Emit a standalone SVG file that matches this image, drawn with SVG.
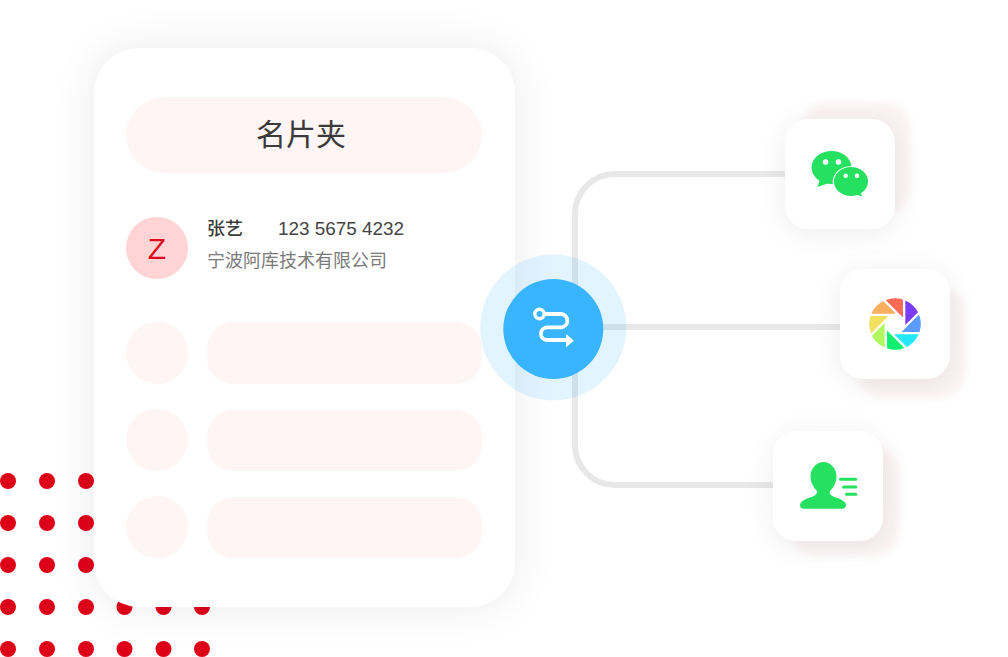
<svg xmlns="http://www.w3.org/2000/svg" width="1008" height="657" viewBox="0 0 1008 657">
<style>
.t{font-family:"Noto Sans CJK SC","Noto Sans",sans-serif}
.n{font-family:"Liberation Sans",Arial,"Noto Sans CJK SC",sans-serif}
.dot{fill:#de0019}
.ph{fill:#fff5f4}
.tile{fill:#fff}
.pink{fill:#fbf2f3}
.conn{fill:none;stroke:#e8e8e8;stroke-width:6}
.lines{stroke:#26e05f;stroke-width:3;stroke-linecap:round;fill:none}
</style>
<defs>
<filter id="card" x="-20%" y="-20%" width="140%" height="140%"><feDropShadow dx="0" dy="0" stdDeviation="20" flood-color="#000" flood-opacity="0.08"/></filter>
<filter id="tile" x="-50%" y="-50%" width="200%" height="200%"><feDropShadow dx="0" dy="4" stdDeviation="13" flood-color="#000" flood-opacity="0.07"/></filter>
<filter id="soft" x="-20%" y="-20%" width="140%" height="140%"><feGaussianBlur stdDeviation="4"/></filter>
<path id="blade" d="M10.3 -23.6A25.8 25.8 0 0 1 23 -11.8L10.3 1Z"/>
</defs>

<g id="dots" class="dot">
<circle cx="8" cy="481" r="8"/><circle cx="47" cy="481" r="8"/><circle cx="86" cy="481" r="8"/>
<circle cx="8" cy="523" r="8"/><circle cx="47" cy="523" r="8"/><circle cx="86" cy="523" r="8"/>
<circle cx="8" cy="565" r="8"/><circle cx="47" cy="565" r="8"/><circle cx="86" cy="565" r="8"/>
<circle cx="8" cy="607" r="8"/><circle cx="47" cy="607" r="8"/><circle cx="86" cy="607" r="8"/><circle cx="124.500" cy="607" r="8"/><circle cx="163.500" cy="607" r="8"/><circle cx="202" cy="607" r="8"/>
<circle cx="8" cy="649" r="8"/><circle cx="47" cy="649" r="8"/><circle cx="86" cy="649" r="8"/><circle cx="124.500" cy="649" r="8"/><circle cx="163.500" cy="649" r="8"/><circle cx="202" cy="649" r="8"/>
</g>

<g id="connectors">
<path class="conn" d="M785 174H615A40 40 0 0 0 575 214V445A40 40 0 0 0 615 485H775"/>
<path class="conn" d="M600 327H842"/>
</g>

<g id="card-main">
<rect x="94" y="48" width="421" height="559" rx="46" fill="#fff" filter="url(#card)"/>
<rect class="ph" x="126" y="97" width="356" height="76" rx="38"/>
<text class="t" x="301" y="145" font-size="30" fill="#3a3a3a" text-anchor="middle">名片夹</text>
<circle cx="157" cy="248" r="31" fill="#ffd4d4"/>
<text class="n" x="157" y="259" font-size="30" fill="#e00a20" text-anchor="middle">Z</text>
<text class="t" x="207" y="235" font-size="18" font-weight="500" fill="#3a3a3a">张艺</text>
<text class="n" x="278" y="235" font-size="18.900" fill="#444">123 5675 4232</text>
<text class="t" x="207" y="267" font-size="18" fill="#7a7a7a">宁波阿库技术有限公司</text>
<circle class="ph" cx="157" cy="353" r="31"/><rect class="ph" x="207" y="322" width="275" height="62" rx="26"/>
<circle class="ph" cx="157" cy="440" r="31"/><rect class="ph" x="207" y="410" width="275" height="61" rx="26"/>
<circle class="ph" cx="157" cy="527" r="31"/><rect class="ph" x="207" y="497" width="275" height="61" rx="26"/>
</g>

<g id="hub">
<circle cx="553.300" cy="327.500" r="73" fill="#39b4ff" fill-opacity="0.15"/>
<circle cx="553.300" cy="329" r="50" fill="#39b4ff"/>
<circle cx="539.500" cy="314" r="4.700" fill="none" stroke="#fff" stroke-width="3.400"/>
<path d="M544.500 314H561.500A6.700 6.700 0 0 1 561.500 327.300H546.500A6.400 6.400 0 0 0 546.500 340H568" fill="none" stroke="#fff" stroke-width="3.800"/>
<path d="M566 334L574 340.700L566 347.300Z" fill="#fff"/>
</g>

<g id="wechat">
<rect class="pink" x="803" y="103" width="107" height="110" rx="24" filter="url(#soft)"/>
<rect class="tile" x="785" y="119" width="110" height="110" rx="24" filter="url(#tile)"/>
<ellipse cx="831.500" cy="167.500" rx="20" ry="16.500" fill="#26e05f"/>
<path d="M820 179L817.500 187L829 183Z" fill="#26e05f"/>
<ellipse cx="851" cy="181.500" rx="18.300" ry="15.300" fill="#fff"/>
<ellipse cx="851" cy="181.500" rx="17" ry="14.500" fill="#26e05f"/>
<path d="M855 194L862 196.500L860 190Z" fill="#26e05f"/>
<circle cx="825.500" cy="162" r="2.800" fill="#fff"/><circle cx="838.500" cy="162" r="2.800" fill="#fff"/>
<circle cx="845.700" cy="175.700" r="2.200" fill="#fff"/><circle cx="857" cy="175.700" r="2.200" fill="#fff"/>
</g>

<g id="aperture">
<rect class="pink" x="858" y="287" width="107" height="110" rx="24" filter="url(#soft)"/>
<rect class="tile" x="840" y="269" width="110" height="110" rx="24" filter="url(#tile)"/>
<g transform="translate(895 324)">
<use href="#blade" fill="#7a3cf5"/>
<use href="#blade" fill="#5b9bfb" transform="rotate(45)"/>
<use href="#blade" fill="#22e8f8" transform="rotate(90)"/>
<use href="#blade" fill="#10f070" transform="rotate(135)"/>
<use href="#blade" fill="#b0f860" transform="rotate(180)"/>
<use href="#blade" fill="#f2e060" transform="rotate(225)"/>
<use href="#blade" fill="#f8b060" transform="rotate(270)"/>
<use href="#blade" fill="#ff6b55" transform="rotate(315)"/>
</g>
</g>

<g id="contact">
<rect class="pink" x="791" y="447" width="108" height="108" rx="24" filter="url(#soft)"/>
<rect class="tile" x="773" y="431" width="110" height="110" rx="24" filter="url(#tile)"/>
<path d="M823.500 462C831 462 836.500 469 836.500 476.500C836.500 483 833 488 830 491C829 494 831 496 836 497.500C842 499.500 846 502 846 505C846 507.500 844.500 508.700 842 508.700H804C801.500 508.700 800 507.500 800 505.500C800 502 804 499.500 810 497.500C815 496 817.500 494 817 491C814 488 810.500 483 810.500 476.500C810.500 469 816 462 823.500 462Z" fill="#26e05f"/>
<path class="lines" d="M840.500 479.300H855.800M843.500 487H855.800M846.500 494.300H855.800"/>
</g>
</svg>
